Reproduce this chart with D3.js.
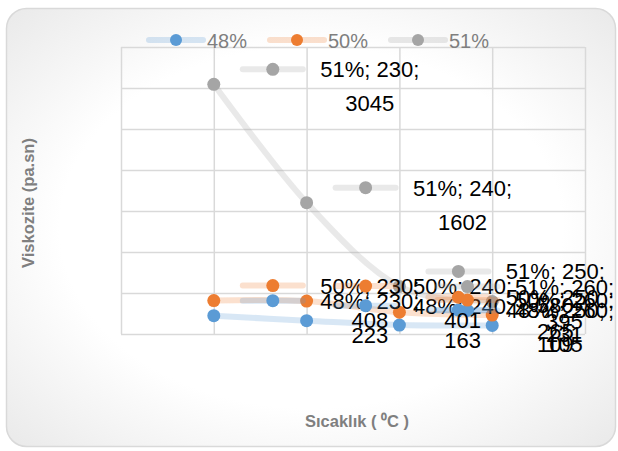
<!DOCTYPE html>
<html><head><meta charset="utf-8">
<script src="https://cdn.jsdelivr.net/npm/d3@7"></script>
<style>
html,body{margin:0;padding:0;background:#fff;}
svg{display:block;font-family:"Liberation Sans",Arial,sans-serif;}
</style></head>
<body><svg id="c" width="618" height="451"></svg>
<script>
const temps = [230, 240, 250, 260];
const seriesNames = ["48%", "50%", "51%"];
const values48 = [223, 163, 109, 105];
const values50 = [408, 401, 265, 231];
const values51 = [3045, 1602, 580, 395];
const xTicks = [220, 230, 240, 250, 260, 270];
const yTicks = [0, 500, 1000, 1500, 2000, 2500, 3000, 3500];
const colors = ["#5b9bd5", "#ed7d31", "#a5a5a5"];
const yTitle = "Viskozite (pa.sn)";
const xTitle = "Sıcaklık ( \u2070C )";

const series = seriesNames.map((n, i) => ({
  name: n, color: colors[i],
  values: [values48, values50, values51][i].map((v, j) => ({x: temps[j], y: v}))
}));

const svg = d3.select("#c");
const defs = svg.append("defs");
const rg = defs.append("radialGradient").attr("id", "bg").attr("cx", "50%").attr("cy", "50%").attr("r", "75%");
rg.append("stop").attr("offset", "0%").attr("stop-color", "#ffffff");
rg.append("stop").attr("offset", "55%").attr("stop-color", "#ffffff");
rg.append("stop").attr("offset", "100%").attr("stop-color", "#e6e6e6");
svg.append("rect").attr("x", 6.5).attr("y", 8.5).attr("width", 609).attr("height", 438)
  .attr("rx", 20).attr("fill", "url(#bg)").attr("stroke", "#d9d9d9").attr("stroke-width", 1.5);

const L = 121, R = 585, T = 47, B = 334;
const x = d3.scaleLinear().domain([220, 270]).range([L, R]);
const y = d3.scaleLinear().domain([0, 3500]).range([B, T]);

// gridlines
svg.append("g").attr("transform", `translate(0,${B})`)
  .call(d3.axisBottom(x).tickValues(xTicks).tickSize(-(B - T)).tickFormat(""))
  .call(g => { g.select(".domain").remove(); g.selectAll("line").attr("stroke", "#d9d9d9").attr("stroke-width", 1.5); });
svg.append("g").attr("transform", `translate(${L},0)`)
  .call(d3.axisLeft(y).tickValues(yTicks).tickSize(-(R - L)).tickFormat(""))
  .call(g => { g.select(".domain").remove(); g.selectAll("line").attr("stroke", "#d9d9d9").attr("stroke-width", 1.5); });

const line = d3.line().x(d => x(d.x)).y(d => y(d.y)).curve(d3.curveCatmullRom.alpha(0));
const lineOp = 0.24;

series.forEach(s => {
  svg.append("path").attr("d", line(s.values)).attr("fill", "none")
    .attr("stroke", s.color).attr("stroke-opacity", lineOp).attr("stroke-width", 6).attr("stroke-linecap", "round");
});
series.forEach(s => {
  svg.append("g").selectAll("circle").data(s.values).join("circle")
    .attr("cx", d => x(d.x)).attr("cy", d => y(d.y)).attr("r", 6.5).attr("fill", s.color);
});

// data labels with legend key
const labelG = svg.append("g");
series.forEach(s => {
  s.values.forEach(d => {
    const px = x(d.x), py = y(d.y);
    const g = labelG.append("g");
    const t1 = g.append("text").attr("text-anchor", "middle").attr("font-size", 22).attr("fill", "#000")
      .attr("x", 0).attr("y", py - 7).text(`${s.name}; ${d.x};`);
    const t2 = g.append("text").attr("text-anchor", "middle").attr("font-size", 22).attr("fill", "#000")
      .attr("x", 0).attr("y", py + 27).text(String(d.y));
    const w = Math.max(t1.node().getComputedTextLength(), t2.node().getComputedTextLength());
    let cx = px + 156;
    let shift = 0;
    if (cx + w / 2 > 614) shift = 614 - (cx + w / 2);
    cx += shift;
    t1.attr("x", cx); t2.attr("x", cx);
    const kx = px + 59 + shift, ky = py - 15;
    g.insert("line", "text").attr("x1", kx - 30).attr("x2", kx + 30).attr("y1", ky).attr("y2", ky)
      .attr("stroke", s.color).attr("stroke-opacity", lineOp).attr("stroke-width", 6).attr("stroke-linecap", "round");
    g.insert("circle", "text").attr("cx", kx).attr("cy", ky).attr("r", 6.5).attr("fill", s.color);
  });
});

// legend
const legX = [176, 297, 418];
series.forEach((s, i) => {
  const g = svg.append("g");
  g.append("line").attr("x1", legX[i] - 27).attr("x2", legX[i] + 27).attr("y1", 40).attr("y2", 40)
    .attr("stroke", s.color).attr("stroke-opacity", lineOp).attr("stroke-width", 6).attr("stroke-linecap", "round");
  g.append("circle").attr("cx", legX[i]).attr("cy", 40).attr("r", 6).attr("fill", s.color);
  g.append("text").attr("x", legX[i] + 31).attr("y", 47.5).attr("font-size", 20).attr("fill", "#7f7f7f").text(s.name);
});

// axis titles
svg.append("text").attr("transform", "translate(34,203) rotate(-90)").attr("text-anchor", "middle")
  .attr("font-size", 16.5).attr("font-weight", "bold").attr("fill", "#7f7f7f").text(yTitle);
svg.append("text").attr("x", 357).attr("y", 427).attr("text-anchor", "middle")
  .attr("font-size", 16.5).attr("font-weight", "bold").attr("fill", "#7f7f7f").text(xTitle);
</script></body></html>
